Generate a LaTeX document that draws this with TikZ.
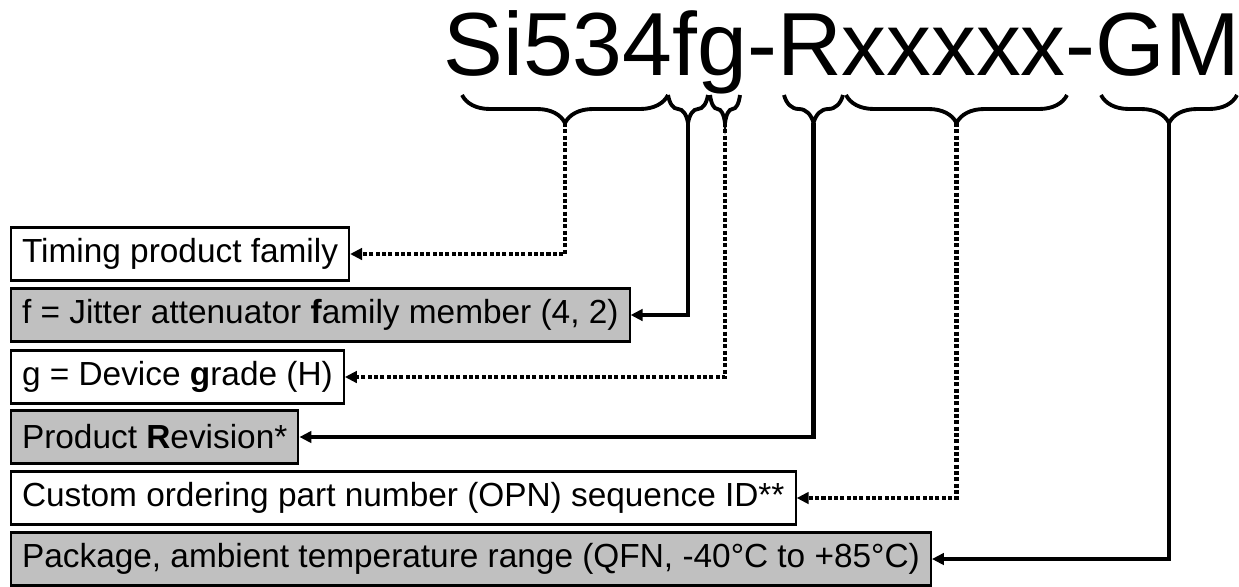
\documentclass[tikz,border=0pt]{standalone}
\usepackage{fontspec}
\setmainfont{Liberation Sans}
\usetikzlibrary{arrows.meta, positioning, decorations.pathreplacing}
\definecolor{boxgray}{RGB}{192,192,192}

\begin{document}
\begin{tikzpicture}[
    x=0.02cm, y=-0.02cm,
    field/.style={rectangle, draw, line width=1.2pt, anchor=west, minimum height=1.06cm, inner xsep=0.22cm, fill=#1, font=\fontsize{19}{21}\selectfont},
    field/.default=white,
    bracket/.style={decorate, decoration={brace, mirror, amplitude=0.56cm}, line width=2.2pt},
    solidarrow/.style={-{Triangle[length=2.4mm, width=2.3mm]}, line width=2.8pt},
    dotarrow/.style={solidarrow, line width=2.3pt, dash pattern=on 2.3pt off 1.3pt},
]
\useasboundingbox (0,0) rectangle (1239,586);

% Part number
\node[anchor=base west, inner sep=0, font=\fontsize{51}{57}\selectfont] (pn) at (443,75) {Si534fg-Rxxxxx-GM};

% Braces under the fields
\foreach \a/\b/\n in {462/668/1, 668/708/2, 710/740/3, 784/843/4, 846/1067/5, 1101/1237/6} {
    \draw[bracket] (\a,95) -- (\b,95);
    \coordinate (b\n) at ({(\a+\b)/2},123);
}

% Field descriptions
\node[field] (fam) at (10,254) {Timing product family};
\node[field=boxgray] (fmem) at (10,315) {f = Jitter attenuator \textbf{f}amily member (4, 2)};
\node[field] (grade) at (10,377) {g = Device \textbf{g}rade (H)};
\node[field=boxgray] (rev) at (10,437) {Product \textbf{R}evision*};
\node[field] (opn) at (10,498) {Custom ordering part number (OPN) sequence ID**};
\node[field=boxgray] (pkg) at (10,559) {Package, ambient temperature range (QFN, -40°C to +85°C)};

% Connections
\draw[dotarrow] (b1) |- (fam.east);
\draw[solidarrow] (b2) |- (fmem.east);
\draw[dotarrow] (b3) |- (grade.east);
\draw[solidarrow] (b4) |- (rev.east);
\draw[dotarrow] (b5) |- (opn.east);
\draw[solidarrow] (b6) |- (pkg.east);

\end{tikzpicture}
\end{document}
